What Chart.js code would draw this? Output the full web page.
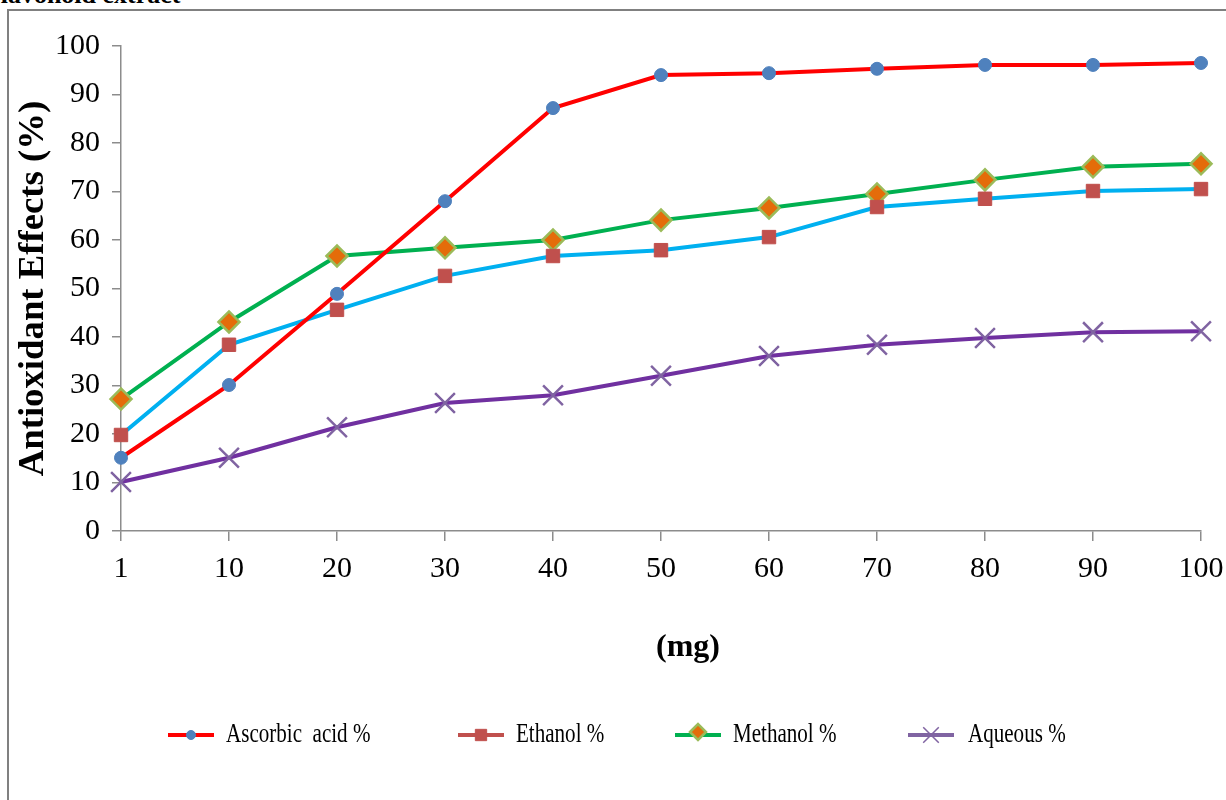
<!DOCTYPE html>
<html>
<head>
<meta charset="utf-8">
<title>Antioxidant effects</title>
<script src="https://cdn.jsdelivr.net/npm/chart.js@4.4.1/dist/chart.umd.min.js"></script>
<style>
    html, body { margin: 0; padding: 0; background: #fff; overflow: hidden; }
    #wrap { position: relative; width: 1226px; height: 800px; overflow: hidden; }
    #frame {
        position: absolute; left: 7px; top: 9px; right: -10px; bottom: -10px;
        border-left: 2px solid #808080; border-top: 2px solid #808080;
    }
    #caption {
        position: absolute; left: -8px; top: -18px;
        font: bold 26px "Liberation Serif", serif; line-height: 26px; white-space: nowrap;
    }
    #chart { position: absolute; left: 0; top: 0; }
</style>
</head>
<body>
<div id="wrap">
    <div id="frame"></div>
    <div id="caption">flavonoid extract</div>
    <canvas id="chart" width="1226" height="800"></canvas>
</div>
<script>
const doses = ['1', '10', '20', '30', '40', '50', '60', '70', '80', '90', '100'];
const ascorbic = [15.1, 30.1, 48.9, 68.0, 87.2, 94.0, 94.4, 95.3, 96.1, 96.1, 96.5];
const ethanol = [19.8, 38.4, 45.6, 52.6, 56.7, 57.9, 60.6, 66.8, 68.5, 70.1, 70.5];
const methanol = [27.2, 43.1, 56.7, 58.4, 60.0, 64.1, 66.6, 69.5, 72.4, 75.1, 75.7];
const aqueous = [10.1, 15.1, 21.4, 26.4, 28.0, 32.0, 36.1, 38.4, 39.8, 41.0, 41.2];
const seriesNames = ['Ascorbic  acid %', 'Ethanol %', 'Methanol %', 'Aqueous %'];

const yTitle = 'Antioxidant Effects (%)';
const xTitle = '(mg)';

// legend layout: where each swatch line starts, and the colour of that line
const legendStart = [168, 458, 675, 908];
const legendLine = ['#FF0000', '#C0504D', '#00B050', '#8064A2'];
const legendRadius = [4.5, 8, 8, 11];

const SERIF = '"Liberation Serif", "Times New Roman", serif';

function series(label, data, line, style) {
    return Object.assign({
        label: label,
        data: data,
        borderColor: line,
        borderWidth: 4,
        tension: 0,
        fill: false
    }, style);
}

const datasets = [
    series(seriesNames[0], ascorbic, '#FF0000', {
        pointStyle: 'circle', pointRadius: 6.5,
        pointBackgroundColor: '#4F81BD', pointBorderColor: '#4F81BD', pointBorderWidth: 1
    }),
    series(seriesNames[1], ethanol, '#00B0F0', {
        pointStyle: 'rect', pointRadius: 9.5,
        pointBackgroundColor: '#C0504D', pointBorderColor: '#C0504D', pointBorderWidth: 1
    }),
    series(seriesNames[2], methanol, '#00B050', {
        pointStyle: 'rectRot', pointRadius: 10.5,
        pointBackgroundColor: '#E46C0A', pointBorderColor: '#9BBB59', pointBorderWidth: 2.5
    }),
    series(seriesNames[3], aqueous, '#7030A0', {
        pointStyle: 'crossRot', pointRadius: 14,
        pointBackgroundColor: '#8064A2', pointBorderColor: '#8064A2', pointBorderWidth: 2.5
    })
];

// axis titles and the line+marker legend under the plot
const decor = {
    id: 'decor',
    afterDraw(chart) {
        const ctx = chart.ctx;
        const area = chart.chartArea;

        ctx.save();
        ctx.fillStyle = '#000';
        ctx.textAlign = 'center';
        ctx.textBaseline = 'middle';

        ctx.save();
        ctx.font = 'bold 35px ' + SERIF;
        ctx.translate(34, (area.top + area.bottom) / 2);
        ctx.rotate(-Math.PI / 2);
        ctx.scale(1.05, 1);
        ctx.fillText(yTitle, 0, 0);
        ctx.restore();

        ctx.font = 'bold 32px ' + SERIF;
        ctx.fillText(xTitle, 688, 648);

        const y = 735;
        chart.data.datasets.forEach((ds, i) => {
            const x0 = legendStart[i];
            ctx.strokeStyle = legendLine[i];
            ctx.lineWidth = 4;
            ctx.beginPath();
            ctx.moveTo(x0, y);
            ctx.lineTo(x0 + 46, y);
            ctx.stroke();

            ctx.fillStyle = ds.pointBackgroundColor;
            ctx.strokeStyle = ds.pointBorderColor;
            ctx.lineWidth = i === 3 ? 1.5 : ds.pointBorderWidth;
            Chart.helpers.drawPoint(ctx, {
                pointStyle: ds.pointStyle,
                radius: legendRadius[i],
                rotation: 0,
                borderWidth: ctx.lineWidth
            }, x0 + 23, i === 2 ? y - 3 : y);

            ctx.save();
            ctx.fillStyle = '#000';
            ctx.textAlign = 'left';
            ctx.font = '27px ' + SERIF;
            ctx.translate(x0 + (i === 3 ? 60 : 58), y);
            ctx.scale(0.78, 1);
            ctx.fillText(ds.label, 0, 0);
            ctx.restore();
        });
        ctx.restore();
    }
};

new Chart(document.getElementById('chart'), {
    type: 'line',
    data: { labels: doses, datasets: datasets },
    plugins: [decor],
    options: {
        responsive: false,
        animation: false,
        devicePixelRatio: 1,
        layout: { padding: { top: 46, right: 25, bottom: 0, left: 0 } },
        plugins: {
            legend: { display: false },
            tooltip: { enabled: false },
            title: { display: false }
        },
        scales: {
            x: {
                type: 'category',
                offset: false,
                grid: { drawOnChartArea: false, drawTicks: true, tickLength: 10, color: '#8c8c8c', lineWidth: 1.5 },
                border: { color: '#8c8c8c', width: 1.5 },
                ticks: { color: '#000', font: { family: SERIF, size: 30 }, padding: 10, maxRotation: 0, autoSkip: false },
                afterFit: scale => {
                    scale.height = 269;
                    scale.paddingLeft = 0;
                    scale.paddingRight = 0;
                }
            },
            y: {
                min: 0,
                max: 100,
                grid: { drawOnChartArea: false, drawTicks: true, tickLength: 9, color: '#8c8c8c', lineWidth: 1.5 },
                border: { color: '#8c8c8c', width: 1.5 },
                ticks: { stepSize: 10, color: '#000', font: { family: SERIF, size: 30 }, padding: 12 },
                afterFit: scale => { scale.width = 121; }
            }
        }
    }
});
</script>
</body>
</html>
